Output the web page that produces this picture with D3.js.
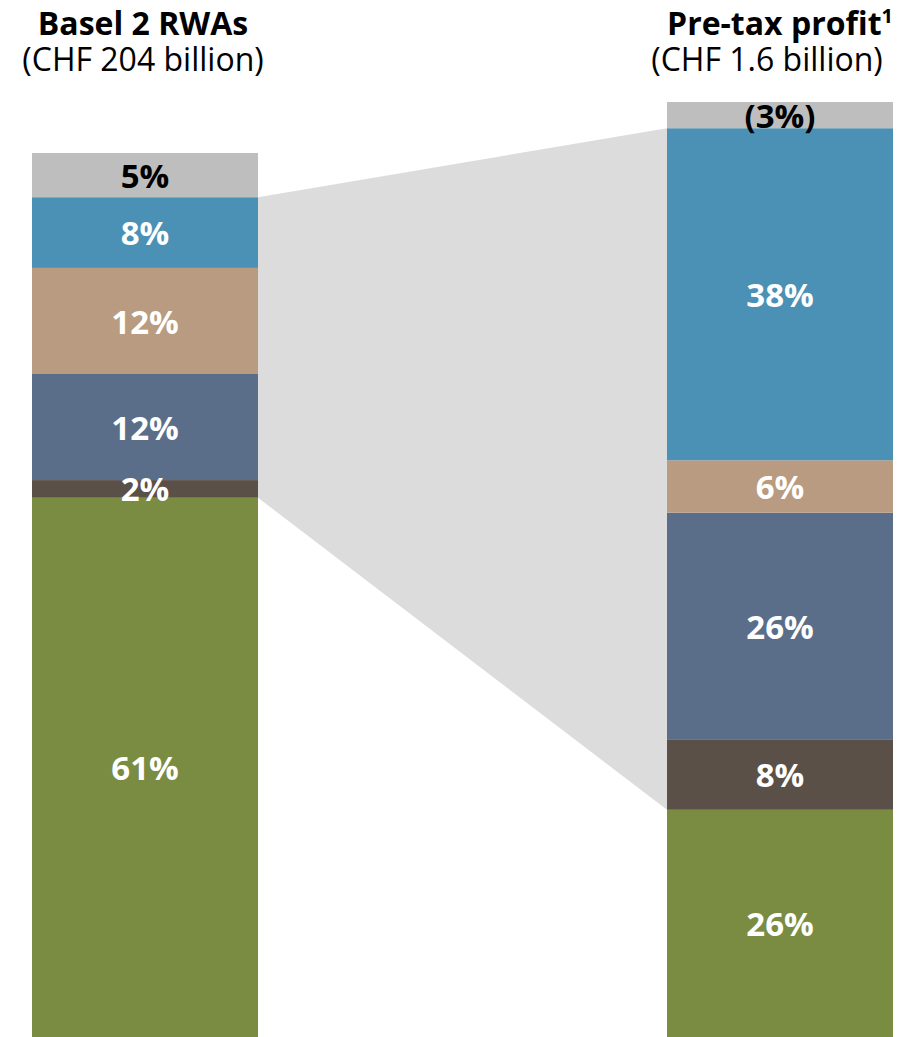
<!DOCTYPE html>
<html>
<head>
<meta charset="utf-8">
<script src="https://cdn.jsdelivr.net/npm/d3@7"></script>
<style>
  html, body { margin: 0; padding: 0; background: #ffffff; }
  svg { display: block; }
  text { font-family: "Open Sans", "Noto Sans", sans-serif; }
</style>
</head>
<body>
<svg id="chart" width="919" height="1037"></svg>
<script>
// Business divisions, listed from the top of each stack to the bottom
const divisions = ["Corporate Center", "Wealth Management", "Wealth Management Americas",
                   "Retail & Corporate", "Global Asset Management", "Investment Bank"];
const divisionColors = ["#bebebe", "#4b91b5", "#b89b80", "#5a6e8a", "#5a5047", "#798c41"];
const labelColors = ["#000000", "#ffffff", "#ffffff", "#ffffff", "#ffffff", "#ffffff"];

// Share of Basel 2 risk-weighted assets (%)
const rwaShares = [5, 8, 12, 12, 2, 61];
// Share of pre-tax profit (%); negative contribution shown in brackets
const profitShares = [-3, 38, 6, 26, 8, 26];

const barKeys = ["rwa", "profit"];
const barTitles = ["Basel 2 RWAs", "Pre-tax profit"];
const barTitleNotes = ["", "1"];
const barSubtitles = ["(CHF 204 billion)", "(CHF 1.6 billion)"];

const width = 919, height = 1037;
const svg = d3.select("#chart");

const x = d3.scaleBand().domain(barKeys).range([32, 893]).paddingInner(409 / 635).paddingOuter(0);
const barTops = { rwa: 153, profit: 102 };
const seriesByBar = { rwa: rwaShares, profit: profitShares };

// Build stacked segments from the bottom up for each bar
function stackSegments(values) {
  const segs = [];
  let acc = 0;
  for (let i = values.length - 1; i >= 0; i--) {
    const v = Math.abs(values[i]);
    segs.push({ index: i, value: values[i], y0: acc, y1: acc + v });
    acc += v;
  }
  return { segs: segs, total: acc };
}

const bars = barKeys.map(key => {
  const s = stackSegments(seriesByBar[key]);
  const y = d3.scaleLinear().domain([0, s.total]).range([height, barTops[key]]);
  return { key: key, segs: s.segs, y: y };
});

// Connector band linking the divisional blocks between the two bars
const left = bars[0], right = bars[1];
const segOf = (bar, idx) => bar.segs.find(d => d.index === idx);
const topIdx = 1, bottomIdx = 4;
const connector = [
  [x("rwa") + x.bandwidth(), left.y(segOf(left, topIdx).y1)],
  [x("profit"), right.y(segOf(right, topIdx).y1)],
  [x("profit"), right.y(segOf(right, bottomIdx).y0)],
  [x("rwa") + x.bandwidth(), left.y(segOf(left, bottomIdx).y0)]
];
svg.append("path")
  .attr("d", d3.line()(connector) + "Z")
  .attr("fill", "#dcdcdc");

const fmt = v => v < 0 ? "(" + Math.abs(v) + "%)" : v + "%";

bars.forEach(bar => {
  const g = svg.append("g");
  g.selectAll("rect")
    .data(bar.segs)
    .join("rect")
    .attr("x", x(bar.key))
    .attr("width", x.bandwidth())
    .attr("y", d => bar.y(d.y1))
    .attr("height", d => bar.y(d.y0) - bar.y(d.y1))
    .attr("fill", d => divisionColors[d.index]);

  g.selectAll("text")
    .data(bar.segs)
    .join("text")
    .attr("x", x(bar.key) + x.bandwidth() / 2)
    .attr("y", d => (bar.y(d.y0) + bar.y(d.y1)) / 2)
    .attr("dy", "0.38em")
    .attr("text-anchor", "middle")
    .attr("font-size", 33)
    .attr("font-weight", 700)
    .attr("fill", d => labelColors[d.index])
    .text(d => fmt(d.value));
});

// Bar titles
barKeys.forEach((key, i) => {
  const cx = x(key) + x.bandwidth() / 2;
  const t = svg.append("text")
    .attr("x", cx - (i === 0 ? 2 : 0))
    .attr("y", 35)
    .attr("text-anchor", "middle")
    .attr("font-size", 32)
    .attr("font-weight", 700)
    .attr("fill", "#000");
  t.append("tspan").text(barTitles[i]);
  if (barTitleNotes[i]) {
    t.append("tspan")
      .attr("font-size", 20)
      .attr("dy", -12)
      .text(barTitleNotes[i]);
  }
  svg.append("text")
    .attr("x", cx - (i === 1 ? 13 : 2))
    .attr("y", 71)
    .attr("text-anchor", "middle")
    .attr("font-size", 32)
    .attr("fill", "#000")
    .text(barSubtitles[i]);
});
</script>
</body>
</html>
